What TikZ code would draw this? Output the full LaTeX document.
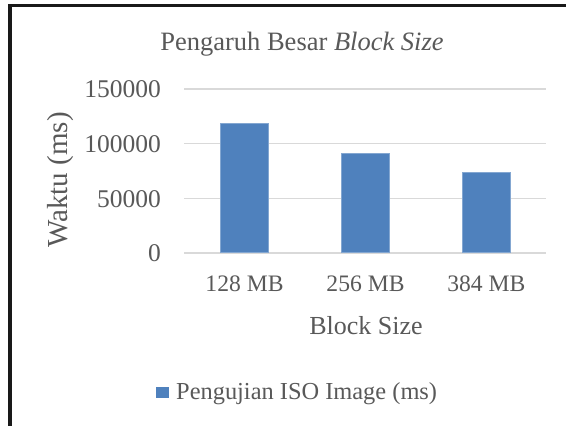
\documentclass[tikz,border=0pt]{standalone}
\usepackage{fontspec}
\setmainfont{Liberation Serif}
\definecolor{txt}{HTML}{595959}
\definecolor{barblue}{HTML}{4F81BD}
\definecolor{gridgray}{HTML}{D9D9D9}
\begin{document}
\begin{tikzpicture}[x=1pt,y=-1pt,
  lbl/.style={text=txt, inner sep=0pt},
  tick/.style={lbl, anchor=east, font=\fontsize{25.5}{25.5}\selectfont},
  cat/.style={lbl, font=\fontsize{23.6}{23.6}\selectfont},
  gridline/.style={draw=gridgray, line width=1.3pt},
  barbox/.style={fill=barblue, draw=barblue!70!white, line width=0.6pt}]
\useasboundingbox (0,0) rectangle (566,426);
\fill[white] (0,0) rectangle (566,426);
% frame
\draw[line width=3pt, black!90] (8,5.5) -- (566,5.5);
\draw[line width=4pt, black!90] (10,4) -- (10,426);
% title
\node[lbl, anchor=base, font=\fontsize{26.5}{26.5}\selectfont] (title) at (302,50.5) {Pengaruh Besar \textit{Block Size}};
% grid
\foreach \y/\n in {89/g3,143.7/g2,198.3/g1,253/g0} {
  \coordinate (\n l) at (184,\y);
  \coordinate (\n r) at (546,\y);
  \draw[gridline] (\n l) -- (\n r);
}
% ticks
\node[tick] (t3) at (161,89.5) {150000};
\node[tick] (t2) at (161,144.2) {100000};
\node[tick] (t1) at (161,198.8) {50000};
\node[tick] (t0) at (161,253.5) {0};
% bars
\node[barbox, minimum width=48.5pt, minimum height=129pt, inner sep=0pt, anchor=south] (b1) at (244.5,253) {};
\node[barbox, minimum width=48.5pt, minimum height=99.7pt, inner sep=0pt, anchor=south] (b2) at (365.5,253) {};
\node[barbox, minimum width=48.5pt, minimum height=80.7pt, inner sep=0pt, anchor=south] (b3) at (486.3,253) {};
% categories
\node[cat] (c1) at (244.5,283.4) {128 MB};
\node[cat] (c2) at (365.5,283.4) {256 MB};
\node[cat] (c3) at (486.3,283.4) {384 MB};
% axis titles
\node[lbl, anchor=base, font=\fontsize{26}{26}\selectfont] (xt) at (366,334) {Block Size};
\node[lbl, rotate=90, font=\fontsize{29}{29}\selectfont] (yt) at (60.5,180) {Waktu (ms)};
% legend
\node[fill=barblue, minimum width=12.5pt, minimum height=11pt, inner sep=0pt] (lk) at (162.3,392) {};
\node[lbl, anchor=base west, font=\fontsize{24.4}{24.4}\selectfont] (lt) at (176,399) {Pengujian ISO Image (ms)};
\end{tikzpicture}
\end{document}
